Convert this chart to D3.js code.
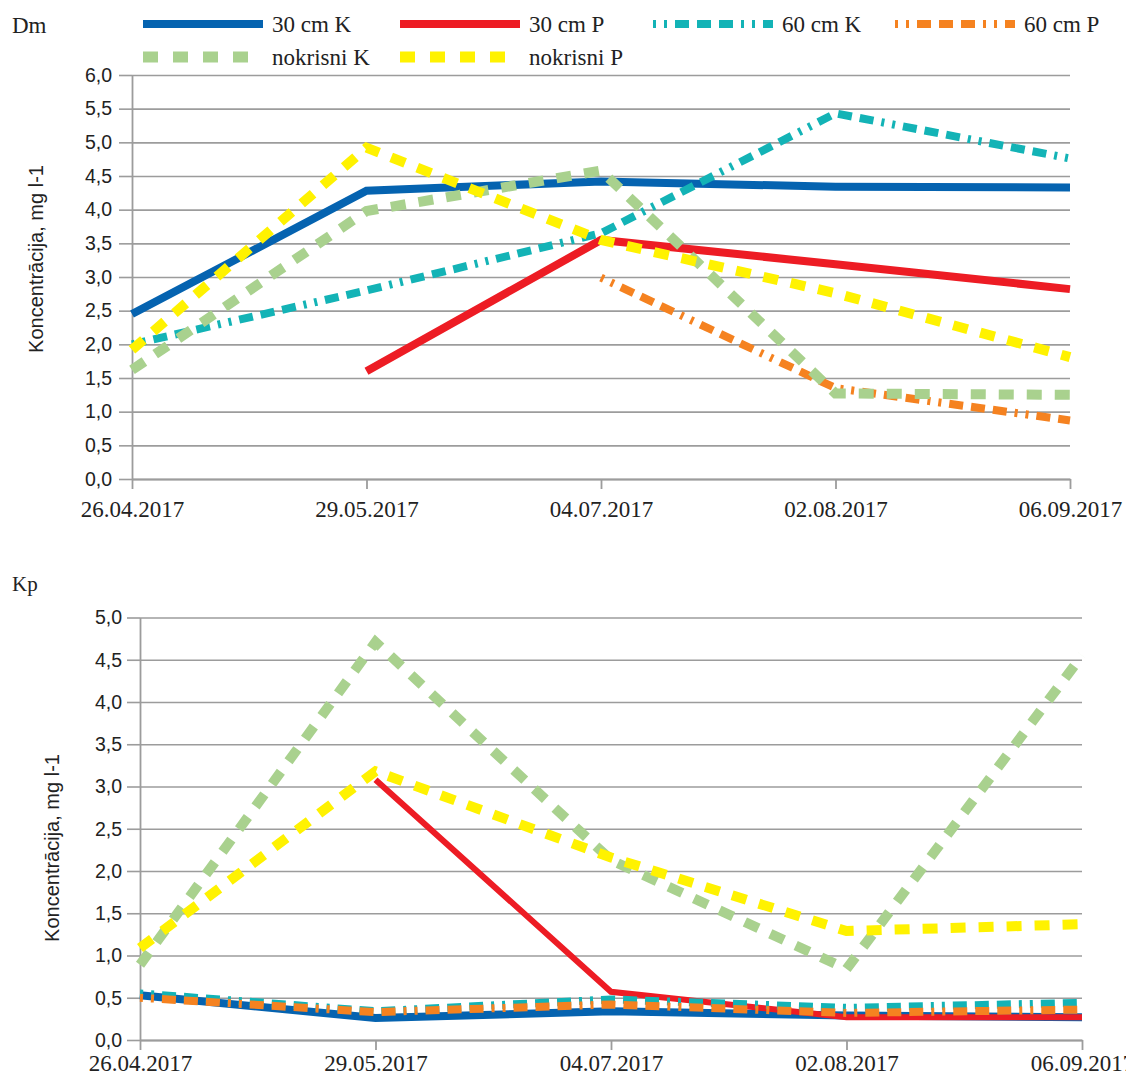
<!DOCTYPE html>
<html><head><meta charset="utf-8">
<script src="https://cdn.jsdelivr.net/npm/d3@7"></script>
<style>body{margin:0;background:#fff}svg{display:block}</style></head>
<body><svg id="c" width="1126" height="1080"></svg>
<script>
// ---- data ----
const categories = ["26.04.2017","29.05.2017","04.07.2017","02.08.2017","06.09.2017"];
const seriesNames = ["30 cm K","30 cm P","60 cm K","60 cm P","nokrisni K","nokrisni P"];

// Dm chart
const dm30K = [2.45, 4.28, 4.42, 4.34, 4.33];
const dm30P = [null, 1.60, 3.55, 3.19, 2.82];
const dm60K = [2.0, 2.80, 3.65, 5.43, 4.76];
const dm60P = [null, null, 2.99, 1.35, 0.87];
const dmNokK = [1.62, 3.98, 4.58, 1.27, 1.25];
const dmNokP = [1.92, 4.92, 3.55, 2.76, 1.81];
const dmTicks = [0,0.5,1,1.5,2,2.5,3,3.5,4,4.5,5,5.5,6];

// Kp chart
const kp30K = [0.53, 0.26, 0.34, 0.29, 0.27];
const kp30P = [null, 3.08, 0.57, 0.27, 0.27];
const kp60K = [0.55, 0.34, 0.48, 0.38, 0.44];
const kp60P = [0.50, 0.33, 0.42, 0.32, 0.36];
const kpNokK = [0.89, 4.71, 2.13, 0.84, 4.55];
const kpNokP = [1.09, 3.18, 2.16, 1.29, 1.37];
const kpTicks = [0,0.5,1,1.5,2,2.5,3,3.5,4,4.5,5];

const yTitle = "Koncentrācija, mg l-1";

// ---- styles ----
const styles = [
  {color:"#0563b0", width:8, dash:null},
  {color:"#ed1c24", width:8, dash:null},
  {color:"#13b3b6", width:8, dash:"3,8,3,8,14,8,14,8,14,8"},
  {color:"#f58220", width:8, dash:"3,8,3,8,14,8,14,8,14,8"},
  {color:"#a9d18e", width:10, dash:"15,13"},
  {color:"#fff200", width:10, dash:"15,13"}
];
const GRID = "#9c9c9c";
const SANS = "'Liberation Sans', Arial, sans-serif";
const SERIF = "'Liberation Serif', 'Times New Roman', serif";
const fmt = v => d3.format(".1f")(v).replace(".", ",");

const svg = d3.select("#c");

function drawChart(cfg) {
  const x = d3.scalePoint().domain(categories).range([cfg.x0, cfg.x1]);
  const y = d3.scaleLinear().domain([0, cfg.max]).range([cfg.yb, cfg.yt]);
  const g = svg.append("g");

  // gridlines
  const grid = g.append("g").attr("transform", `translate(${cfg.x0},0)`)
    .call(d3.axisLeft(y).tickValues(cfg.ticks).tickSize(-(cfg.x1 - cfg.x0)).tickFormat(""));
  grid.select(".domain").remove();
  grid.selectAll("line").attr("stroke", GRID).attr("stroke-width", 1.6);

  // y axis with outer ticks + labels
  const ya = g.append("g").attr("transform", `translate(${cfg.x0},0)`)
    .call(d3.axisLeft(y).tickValues(cfg.ticks).tickSize(13).tickSizeOuter(0).tickPadding(cfg.labPad).tickFormat(fmt));
  ya.select(".domain").attr("stroke", GRID).attr("stroke-width", 1.8);
  ya.selectAll("line").attr("stroke", GRID).attr("stroke-width", 1.6);
  ya.selectAll("text").attr("font-family", SANS).attr("font-size", 19.5).attr("fill", "#222");

  // x axis
  const xa = g.append("g").attr("transform", `translate(0,${cfg.yb})`)
    .call(d3.axisBottom(x).tickSize(10).tickSizeOuter(0).tickPadding(13));
  xa.select(".domain").attr("stroke", GRID).attr("stroke-width", 1.8);
  xa.selectAll("line").attr("stroke", GRID).attr("stroke-width", 1.8);
  xa.selectAll("text").attr("font-family", SERIF).attr("font-size", 23).attr("fill", "#222")
    .attr("dy", null).attr("y", cfg.dateBase - cfg.yb).attr("dominant-baseline", "auto");

  // y title
  g.append("text").attr("transform", `translate(${cfg.titleX},${cfg.titleY}) rotate(-90)`)
    .attr("text-anchor", "middle").attr("font-family", SANS).attr("font-size", 20).attr("fill", "#222")
    .text(yTitle);

  // chart label
  g.append("text").attr("x", 12).attr("y", cfg.nameBase).attr("font-family", SERIF)
    .attr("font-size", cfg.nameSize).attr("fill", "#222").text(cfg.name);

  // series
  cfg.series.forEach((s, i) => {
    const st = styles[i];
    const w = cfg.widths ? cfg.widths[i] : st.width;
    const line = d3.line().defined(d => d != null)
      .x((d, j) => x(categories[j])).y(d => y(d));
    g.append("path").datum(s).attr("d", line)
      .attr("fill", "none").attr("stroke", st.color).attr("stroke-width", w)
      .attr("stroke-dasharray", st.dash).attr("stroke-linejoin", "miter").attr("stroke-linecap", "butt");
  });
}

drawChart({
  name: "Dm", nameBase: 33, nameSize: 23,
  x0: 132, x1: 1070, yt: 75, yb: 479, max: 6, ticks: dmTicks, labPad: 7,
  dateBase: 517, titleX: 43, titleY: 259,
  series: [dm30K, dm30P, dm60K, dm60P, dmNokK, dmNokP]
});

drawChart({
  name: "Kp", nameBase: 591, nameSize: 21,
  x0: 140, x1: 1082, yt: 617.5, yb: 1040, max: 5, ticks: kpTicks, labPad: 5,
  dateBase: 1071, titleX: 59, titleY: 848,
  widths: [8, 6, 8, 8, 10, 10],
  series: [kp30K, kp30P, kp60K, kp60P, kpNokK, kpNokP]
});

// legend
const legendPos = [[143,24],[400,24],[653,24],[895,24],[143,57],[400,57]];
const lg = svg.append("g");
seriesNames.forEach((n, i) => {
  const [lx, ly] = legendPos[i];
  const st = styles[i];
  lg.append("line").attr("x1", lx).attr("x2", lx + 120).attr("y1", ly).attr("y2", ly)
    .attr("stroke", st.color).attr("stroke-width", i >= 4 ? 11 : 8)
    .attr("stroke-dasharray", st.dash ? (i >= 4 ? "15,15" : st.dash) : null);
  lg.append("text").attr("x", lx + 129).attr("y", ly + 8).attr("font-family", SERIF)
    .attr("font-size", 23).attr("fill", "#222").text(n);
});
</script>
</body></html>
